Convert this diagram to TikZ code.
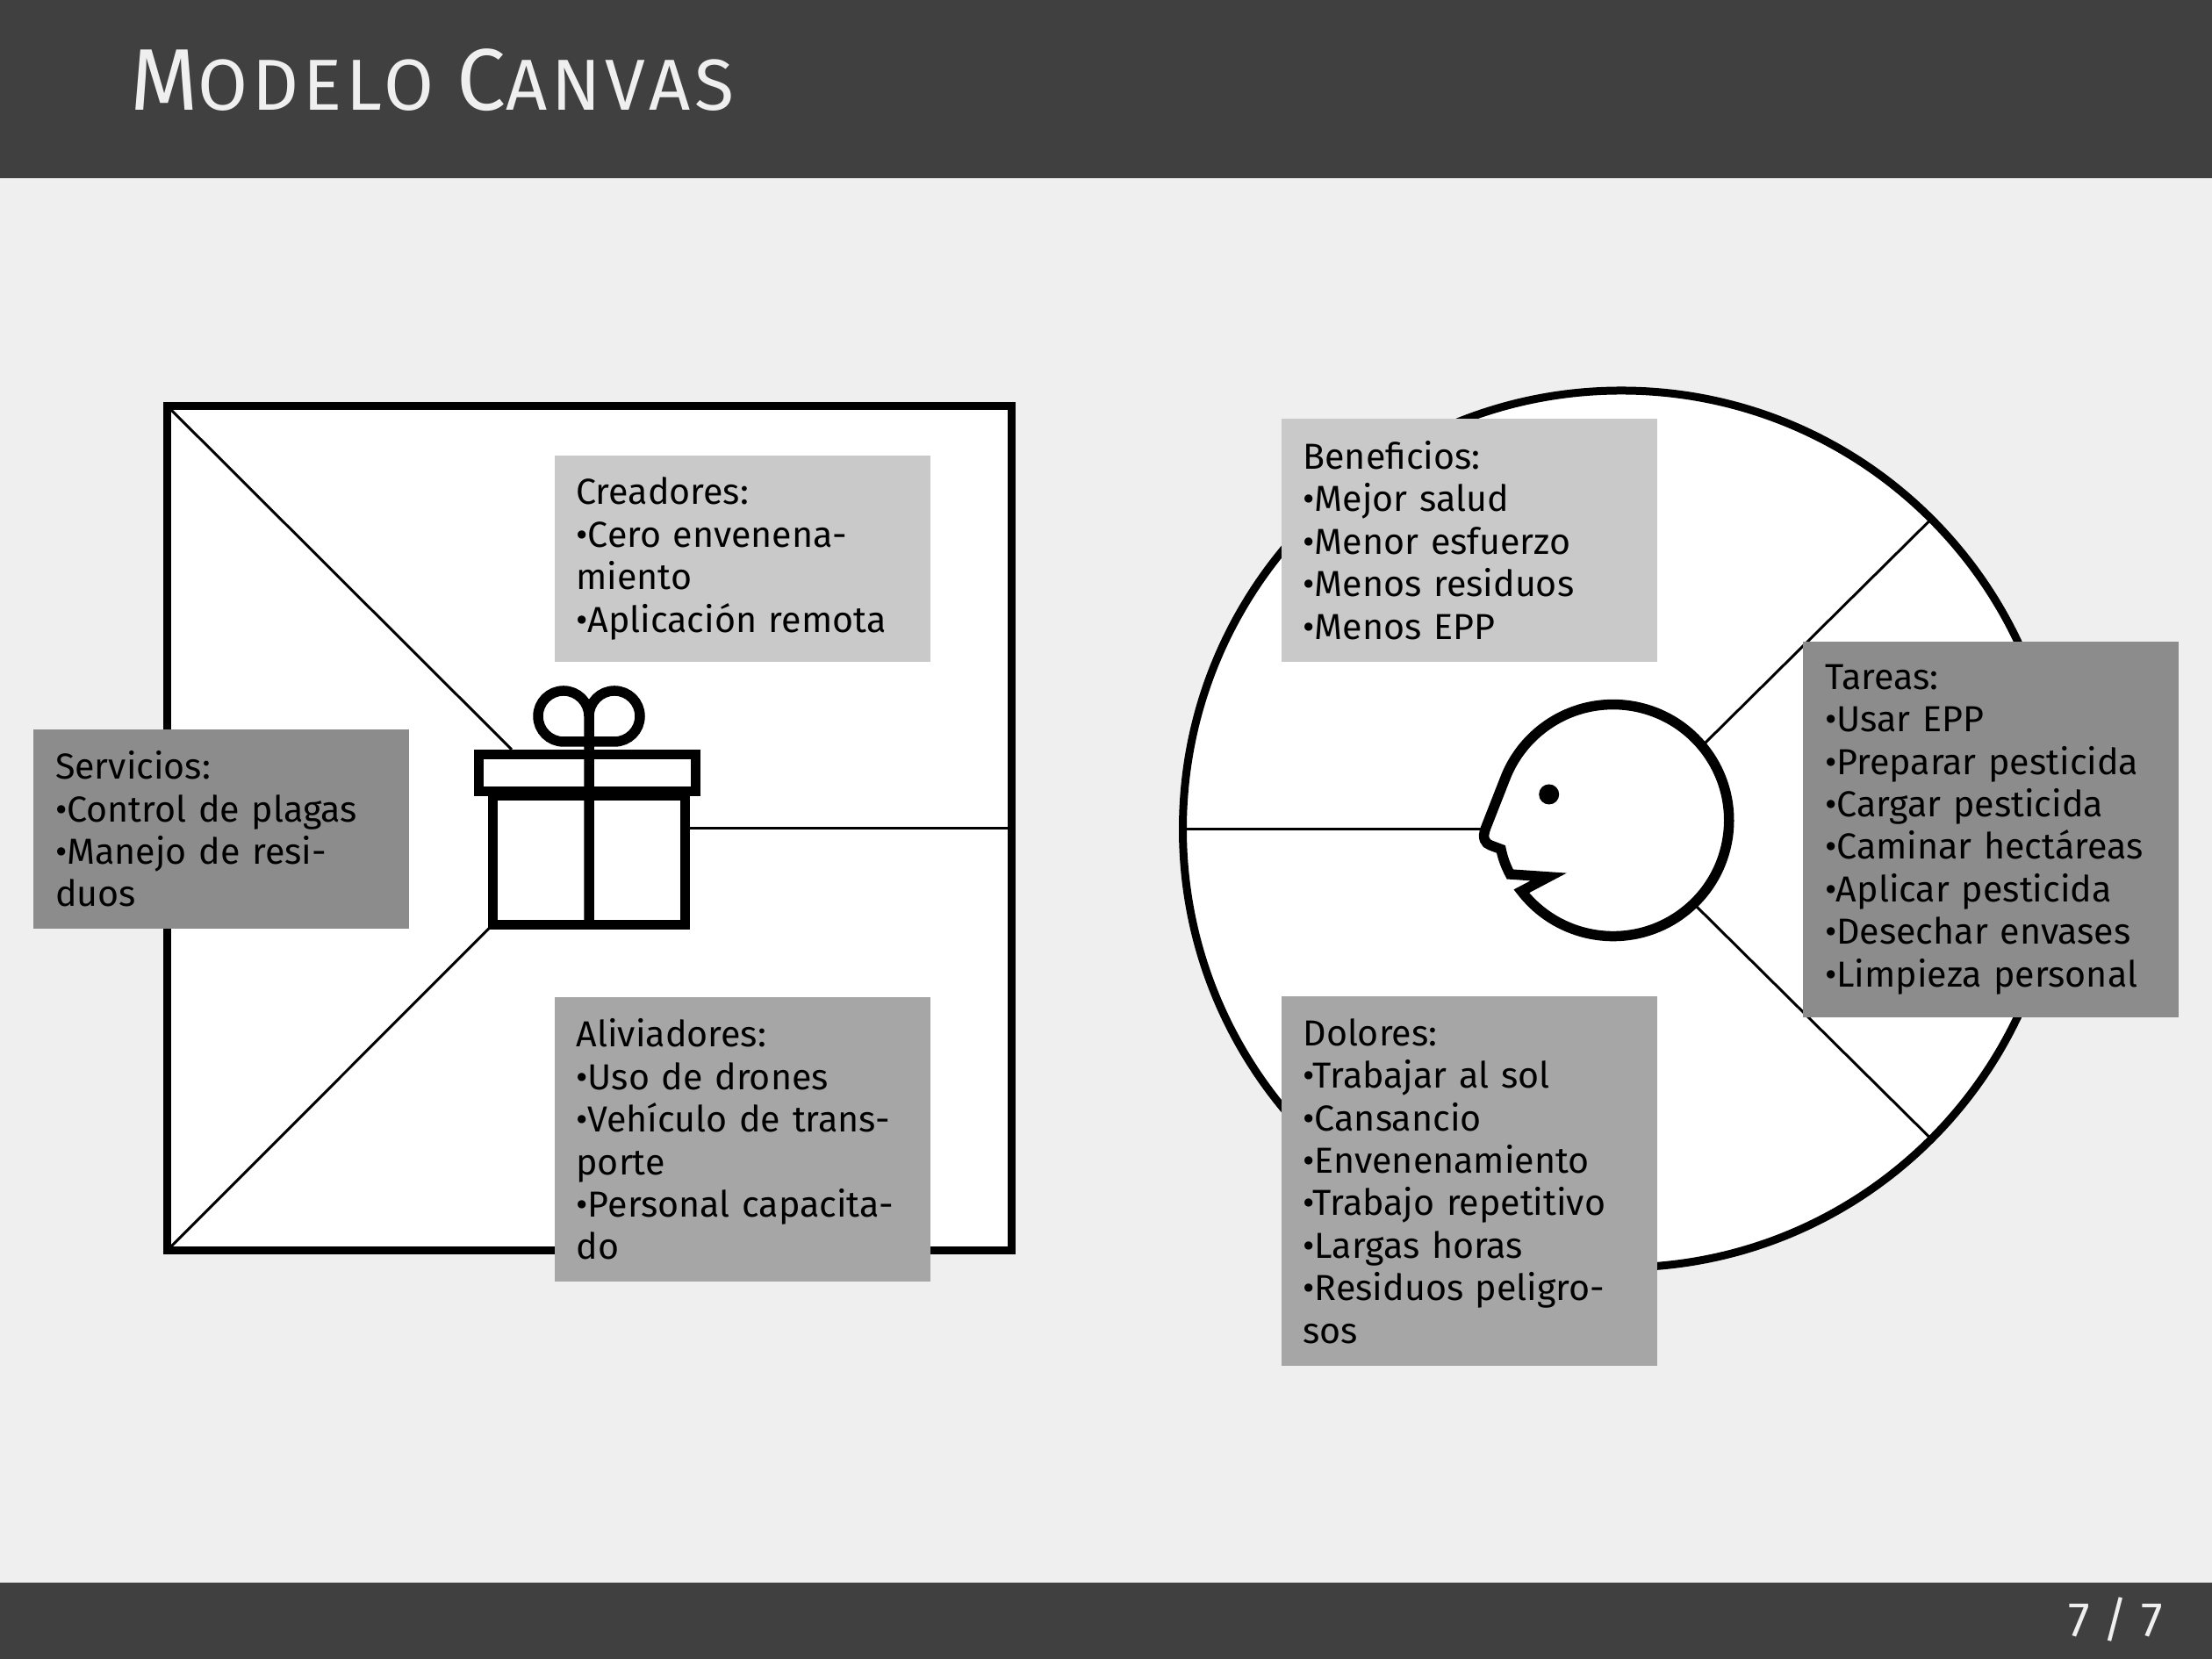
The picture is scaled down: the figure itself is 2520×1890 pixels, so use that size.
\documentclass[tikz,border=0pt]{standalone}
\usepackage{fontspec}
\setmainfont{Fira Sans}
\newfontfamily\titulofont[LetterSpace=6]{Fira Sans}
\def\px{0.050794mm}
\newcommand{\tituloG}{\fontsize{14.4}{14.4}\selectfont}
\newcommand{\tituloC}{\fontsize{11.9}{11.9}\selectfont}
\begin{document}
\begin{tikzpicture}[x=\px, y=-\px,
    caja/.style = {text=black, inner sep=25*\px, outer sep=0pt, text width=378*\px, minimum width=428*\px, align=left, font=\fontsize{5.95}{7}\selectfont},
    claro/.style = {caja, fill=boxclaro},
    medio/.style = {caja, fill=boxmedio},
    oscuro/.style = {caja, fill=boxoscuro},
    grueso/.style = {draw=black, line width=9*\px, fill=white, outer sep=0pt, inner sep=0pt},
    icono/.style = {draw=black, line width=11.5*\px, fill=white, outer sep=0pt, inner sep=0pt},
    fino/.style = {draw=black, line width=3*\px}]
    \definecolor{barra}{HTML}{404040}
    \definecolor{fondo}{HTML}{EFEFEF}
    \definecolor{boxclaro}{HTML}{C9C9C9}
    \definecolor{boxmedio}{HTML}{A6A6A6}
    \definecolor{boxoscuro}{HTML}{8C8C8C}
    \useasboundingbox (0,0) rectangle (2520,1890);
    \fill[fondo] (0,0) rectangle (2520,1890);
    \fill[barra] (0,0) rectangle (2520,203);
    \fill[barra] (0,1803) rectangle (2520,1890);
    \node[text=fondo, anchor=base west, inner sep=0pt] (titulo) at (147,126) {\titulofont\tituloG M\tituloC ODELO \tituloG C\tituloC ANVAS};
    \node[text=fondo, anchor=base east, inner sep=0pt, font=\fontsize{8}{8}\selectfont] (pagina) at (2465,1865) {7 / 7};

    % propuesta de valor
    \node[grueso, rectangle, minimum size=962*\px] (cuadro) at (671.5,943.5) {};
    \node[icono, rectangle, minimum width=219.4*\px, minimum height=147*\px] (cuerpo) at (671,980) {};
    \node[icono, rectangle, minimum width=247.2*\px, minimum height=41.8*\px] (tapa) at (668.9,880.6) {};
    \coordinate (cuello) at (583,854);
    \draw[fino] (cuadro.north west) -- (cuello);
    \draw[fino] (cuadro.south west) -- (cuerpo.south west);
    \draw[fino] (cuadro.east) -- (cuerpo.east |- cuadro.east);
    \draw[icono, fill=none] (671,1053.5) -- (671,816) arc[start angle=0, end angle=-90, radius=29] -- (642,787) arc[start angle=-90, end angle=-270, radius=29] -- (700,845) arc[start angle=90, end angle=-90, radius=29] arc[start angle=-90, end angle=-180, radius=29];

    % perfil del cliente
    \node[grueso, circle, minimum size=999*\px] (circulo) at (1847,944.5) {};
    \coordinate (nariz) at (1687,944.5);
    \coordinate (arriba) at (1942,847);
    \coordinate (abajo) at (1933,1033);
    \draw[fino] (circulo.west) -- (nariz);
    \draw[fino] (circulo.north east) -- (arriba);
    \draw[fino] (circulo.south east) -- (abajo);
    \draw[icono, miter limit=10] (1733.3,1015.3) arc[start angle=142.3, end angle=-157, radius=132] -- (1692.7,943) .. controls (1688,955) and (1692,961) .. (1698,963) -- (1710,967.5) .. controls (1712,978) and (1716,988) .. (1720.3,996) -- (1764.2,999) -- cycle;
    \fill[black] (1764.7,905) circle[radius=11.5];

    % cajas de texto
    \node[claro, minimum height=235*\px] (creadores) at (845.5,636.5) {Creadores:\\•Cero envenena-\\miento\\•Aplicación remota};
    \node[oscuro, minimum height=227*\px] (servicios) at (252,944.5) {Servicios:\\•Control de plagas\\•Manejo de resi-\\duos};
    \node[medio, minimum height=324*\px] (aliviadores) at (845.5,1298) {Aliviadores:\\•Uso de drones\\•Vehículo de trans-\\porte\\•Personal capacita-\\do};
    \node[claro, minimum height=277*\px] (beneficios) at (1673.5,615.5) {Beneficios:\\•Mejor salud\\•Menor esfuerzo\\•Menos residuos\\•Menos EPP};
    \node[oscuro, minimum height=428*\px] (tareas) at (2268,945) {Tareas:\\•Usar EPP\\•Preparar pesticida\\•Cargar pesticida\\•Caminar hectáreas\\•Aplicar pesticida\\•Desechar envases\\•Limpieza personal};
    \node[medio, minimum height=419*\px] (dolores) at (1673.5,1345.5) {Dolores:\\•Trabajar al sol\\•Cansancio\\•Envenenamiento\\•Trabajo repetitivo\\•Largas horas\\•Residuos peligro-\\sos};
\end{tikzpicture}
\end{document}
